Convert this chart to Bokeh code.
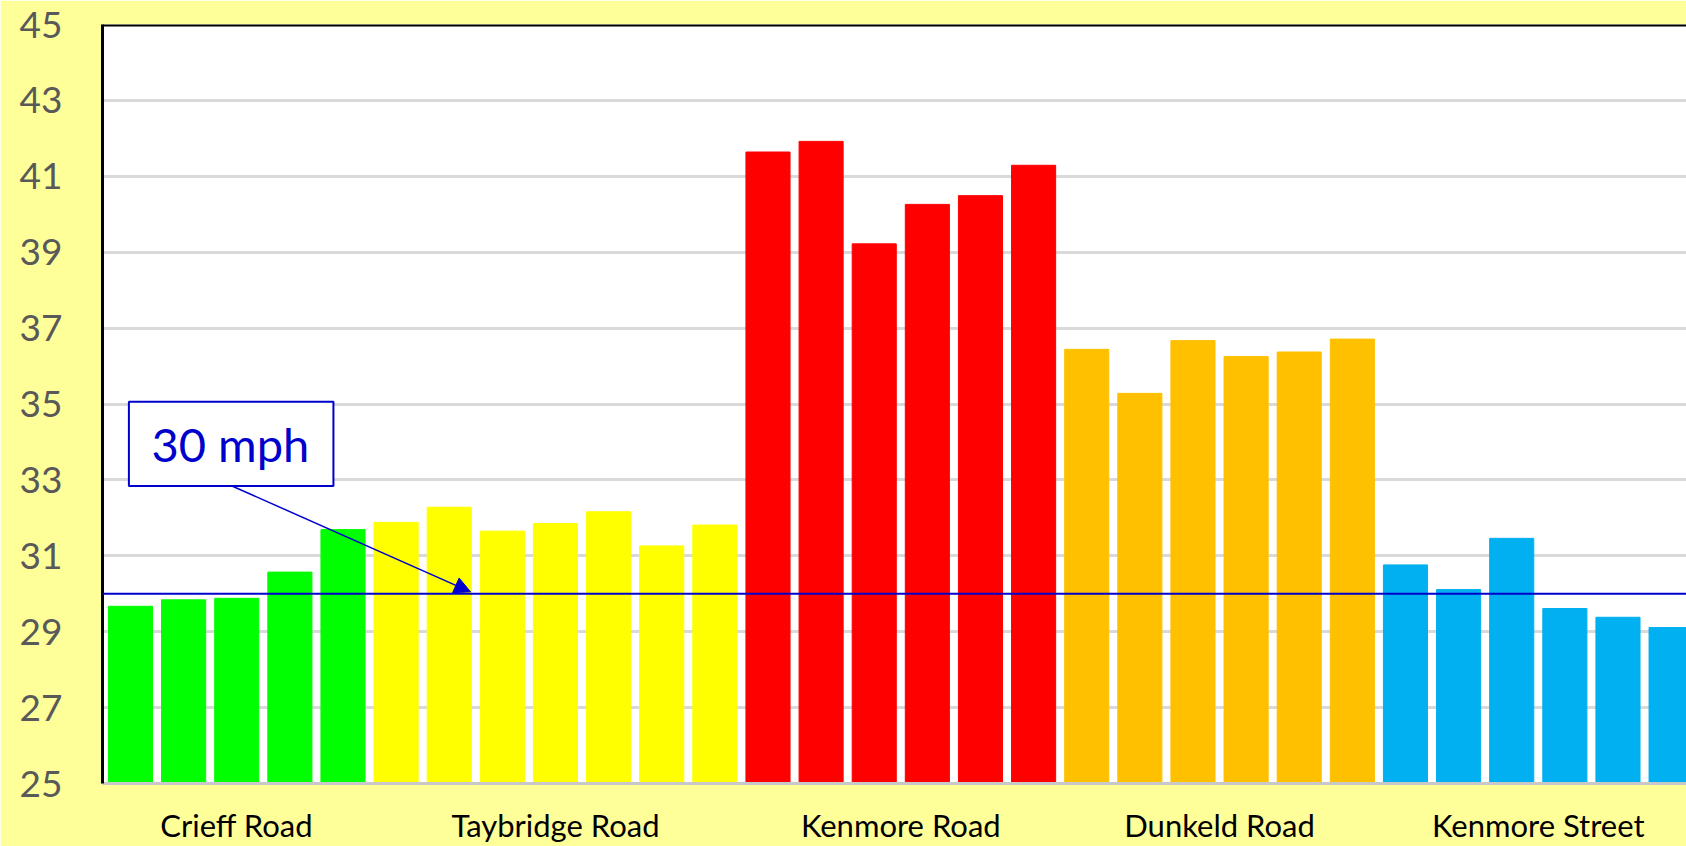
from bokeh.plotting import figure
from bokeh.models import (Range1d, FixedTicker, Span, BoxAnnotation, Label,
                          Arrow, NormalHead, ColumnDataSource)
from bokeh.embed import file_html
from bokeh.resources import INLINE

# ---- data ----
groups = ["Crieff Road", "Taybridge Road", "Kenmore Road", "Dunkeld Road", "Kenmore Street"]
crieff_road = [29.67, 29.84, 29.88, 30.57, 31.69]
taybridge_road = [31.88, 32.28, 31.65, 31.85, 32.16, 31.26, 31.81]
kenmore_road = [41.64, 41.92, 39.22, 40.26, 40.49, 41.29]
dunkeld_road = [36.44, 35.28, 36.67, 36.25, 36.37, 36.71]
kenmore_street = [30.76, 30.11, 31.46, 29.61, 29.38, 29.11]
group_colors = ["#00FF00", "#FFFF00", "#FF0000", "#FFC000", "#00B0F0"]
y_ticks = [25, 27, 29, 31, 33, 35, 37, 39, 41, 43, 45]
speed_limit = 30
callout_text = "30 mph"

series = [crieff_road, taybridge_road, kenmore_road, dunkeld_road, kenmore_street]

xs, tops, cols = [], [], []
centers = []
i = 0
for vals, col in zip(series, group_colors):
    centers.append(i + (len(vals) - 1) / 2)
    for v in vals:
        xs.append(i)
        tops.append(v)
        cols.append(col)
        i += 1

src = ColumnDataSource(dict(x=xs, top=tops, color=cols))

FONT = "Lato"

p = figure(width=1686, height=846, output_backend="svg", toolbar_location=None,
           x_range=Range1d(-0.527, 29.29), y_range=Range1d(25, 45),
           min_border_left=102, min_border_right=0, min_border_top=24,
           min_border_bottom=61)
p.border_fill_color = "#FFFF99"
p.background_fill_color = "white"
p.outline_line_color = None

p.vbar(x="x", top="top", bottom=y_ticks[0], width=0.83, color="color",
       line_color="color", source=src)

# y axis
p.yaxis.ticker = FixedTicker(ticks=y_ticks)
p.yaxis.major_tick_out = 0
p.yaxis.major_tick_in = 0
p.yaxis.minor_tick_out = 0
p.yaxis.minor_tick_in = 0
p.yaxis.axis_line_color = "black"
p.yaxis.axis_line_width = 3
p.yaxis.major_label_text_font = FONT
p.yaxis.major_label_text_font_size = "37px"
p.yaxis.major_label_text_color = "#595959"
p.yaxis.major_label_standoff = 40

# x axis
center_keys = [int(c) if c == int(c) else c for c in centers]
p.xaxis.ticker = FixedTicker(ticks=center_keys)
p.xaxis.major_label_overrides = {k: g for k, g in zip(center_keys, groups)}
p.xaxis.major_tick_out = 0
p.xaxis.major_tick_in = 0
p.xaxis.minor_tick_out = 0
p.xaxis.minor_tick_in = 0
p.xaxis.axis_line_color = "#C8C8C8"
p.xaxis.axis_line_width = 3
p.xaxis.major_label_text_font = FONT
p.xaxis.major_label_text_font_size = "31px"
p.xaxis.major_label_text_color = "black"
p.xaxis.major_label_standoff = 22

# grid
p.xgrid.grid_line_color = None
p.ygrid.ticker = FixedTicker(ticks=y_ticks)
p.ygrid.grid_line_color = "#D9D9D9"
p.ygrid.grid_line_width = 3

# top border
p.add_layout(Span(location=y_ticks[-1], dimension="width", line_color="black", line_width=4))

# speed limit line
p.add_layout(Span(location=speed_limit, dimension="width", line_color="#0000CC", line_width=2))

# callout
p.add_layout(BoxAnnotation(left=-0.03, right=3.82, bottom=32.84, top=35.06,
                           fill_color="white", fill_alpha=1.0,
                           line_color="#0000CC", line_alpha=1.0, line_width=2))
p.add_layout(Label(x=1.88, y=33.95, text=callout_text, text_align="center",
                   text_baseline="middle", text_font=FONT,
                   text_font_size="47px", text_color="#0000CC"))
p.add_layout(Arrow(end=NormalHead(size=16, fill_color="#0000CC", line_color="#0000CC"),
                   x_start=1.91, y_start=32.84, x_end=6.4, y_end=speed_limit + 0.05,
                   line_color="#0000CC", line_width=1.5))

open("out.html", "w").write(file_html(p, INLINE))
